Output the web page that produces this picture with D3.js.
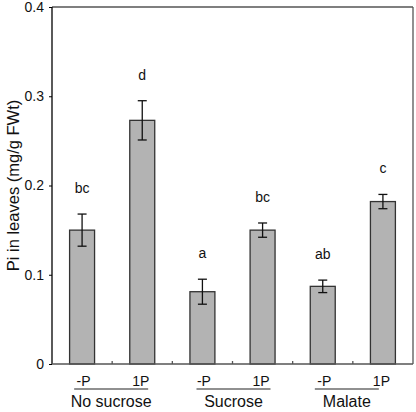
<!DOCTYPE html>
<html><head><meta charset="utf-8">
<script src="https://cdn.jsdelivr.net/npm/d3@7"></script>
<style>body{margin:0;background:#fff;} svg{display:block;font-family:"Liberation Sans",Arial,sans-serif;}</style>
</head><body><svg id="c" width="416" height="412"></svg>
<script>
const categories = ["-P","1P","-P","1P","-P","1P"];
const groups = ["No sucrose","Sucrose","Malate"];
const values = [0.150, 0.273, 0.081, 0.150, 0.087, 0.182];
const errors = [0.018, 0.022, 0.014, 0.008, 0.007, 0.008];
const letters = ["bc","d","a","bc","ab","c"];
const yTicks = [0, 0.1, 0.2, 0.3, 0.4];

const svg = d3.select("#c");
const L = 52, R = 413, T = 7, B = 364;
const x = d3.scaleBand().domain(d3.range(categories.length)).range([L, R]).paddingInner(0.585).paddingOuter(0.2925);
const xb = d3.scaleBand().domain(d3.range(categories.length)).range([L, R]);
const y = d3.scaleLinear().domain([0, 0.4]).range([B, T]);

// frame top & right
svg.append("line").attr("x1", L).attr("x2", R).attr("y1", T).attr("y2", T).attr("stroke", "#555").attr("stroke-width", 1.3);
svg.append("line").attr("x1", R).attr("x2", R).attr("y1", T).attr("y2", B).attr("stroke", "#555").attr("stroke-width", 1.3);

// bars
svg.selectAll("rect.bar").data(values).join("rect").attr("class", "bar")
  .attr("x", (d, i) => x(i)).attr("width", x.bandwidth())
  .attr("y", d => y(d)).attr("height", d => B - y(d))
  .attr("fill", "#b3b3b3").attr("stroke", "#333").attr("stroke-width", 1.3);

// error bars
const eb = svg.append("g").attr("stroke", "#111").attr("stroke-width", 1.3);
values.forEach((v, i) => {
  const cx = x(i) + x.bandwidth() / 2;
  eb.append("line").attr("x1", cx).attr("x2", cx).attr("y1", y(v + errors[i])).attr("y2", y(v - errors[i]));
  eb.append("line").attr("x1", cx - 4.5).attr("x2", cx + 4.5).attr("y1", y(v + errors[i])).attr("y2", y(v + errors[i]));
  eb.append("line").attr("x1", cx - 4.5).attr("x2", cx + 4.5).attr("y1", y(v - errors[i])).attr("y2", y(v - errors[i]));
});

// letters
svg.selectAll("text.let").data(letters).join("text").attr("class", "let")
  .attr("x", (d, i) => x(i) + x.bandwidth() / 2)
  .attr("y", (d, i) => y(values[i] + errors[i]) - 21)
  .attr("text-anchor", "middle").attr("font-size", 14).attr("fill", "#111").text(d => d);

// y axis
const ya = svg.append("g").attr("transform", `translate(${L},0)`)
  .call(d3.axisLeft(y).tickValues(yTicks).tickSize(3).tickPadding(5).tickFormat(d => d === 0 ? "0" : d3.format(".1f")(d)));
ya.select(".domain").attr("stroke", "#000").attr("stroke-width", 1.3).attr("d", `M0,${T}V${B}`);
ya.selectAll(".tick line").attr("stroke", "#000");
ya.selectAll(".tick text").attr("font-size", 14).attr("fill", "#111").attr("font-family", "Liberation Sans, Arial, sans-serif");

// x axis baseline with inner ticks at band boundaries
svg.append("line").attr("x1", L).attr("x2", R).attr("y1", B).attr("y2", B).attr("stroke", "#555").attr("stroke-width", 1.5);
svg.selectAll("line.xt").data(d3.range(1, categories.length)).join("line").attr("class", "xt")
  .attr("x1", i => xb(i)).attr("x2", i => xb(i)).attr("y1", B).attr("y2", B - 3)
  .attr("stroke", "#555").attr("stroke-width", 1.3);

// category labels
svg.selectAll("text.cat").data(categories).join("text").attr("class", "cat")
  .attr("x", (d, i) => xb(i) + xb.bandwidth() / 2 + (i % 2 === 0 ? 1.5 : -1.5))
  .attr("y", 386).attr("text-anchor", "middle").attr("font-size", 14).attr("fill", "#111").text(d => d);

// group labels and lines
const groupShift = [-1, 1, -6];
const groupHalf = [37, 37, 32];
groups.forEach((g, k) => {
  const cx = xb(2 * k + 1) + groupShift[k];
  svg.append("line").attr("x1", cx - groupHalf[k]).attr("x2", cx + groupHalf[k]).attr("y1", 389).attr("y2", 389)
    .attr("stroke", "#222").attr("stroke-width", 1.2);
  svg.append("text").attr("x", cx).attr("y", 407).attr("text-anchor", "middle").attr("font-size", 16).attr("fill", "#111").text(g);
});

// y title
svg.append("text").attr("transform", `translate(19,${(T + B) / 2}) rotate(-90)`)
  .attr("text-anchor", "middle").attr("font-size", 16.5).attr("fill", "#111").text("Pi in leaves (mg/g FWt)");
</script></body></html>
